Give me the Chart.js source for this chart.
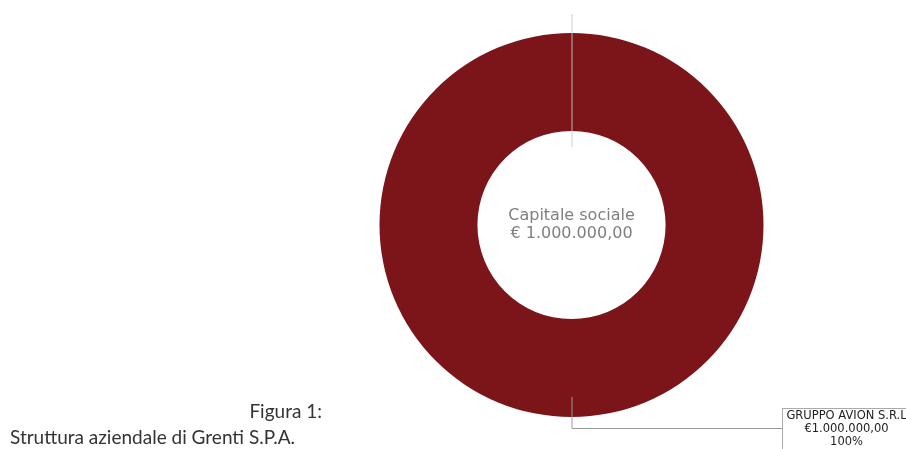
<!DOCTYPE html>
<html lang="it">
<head>
<meta charset="utf-8">
<script src="https://cdn.jsdelivr.net/npm/chart.js@4"></script>
<style>
  html, body { margin: 0; padding: 0; background: #fff; }
  #wrap { position: relative; width: 906px; height: 449px; overflow: hidden; }
  canvas { position: absolute; left: 0; top: 0; }
  .cap { position: absolute; font-family: Lato, "Open Sans", sans-serif; font-size: 19px; color: #333; white-space: nowrap; }
  #cap1 { right: 584px; top: 399px; }
  #cap2 { left: 10px; top: 425px; }
</style>
</head>
<body>
<div id="wrap">
  <canvas id="grafico" width="906" height="449"></canvas>
  <div class="cap" id="cap1">Figura 1:</div>
  <div class="cap" id="cap2">Struttura aziendale di Grenti S.P.A.</div>
</div>
<script>
// Dati
const soci = ["GRUPPO AVION S.R.L"];
const quote = [1000000];
const colori = ["#7b1519"];
const titoloCentro = ["Capitale sociale", "€ 1.000.000,00"];

const totale = quote.reduce((a, b) => a + b, 0);
const fmtEuro = v => "€" + Number(v).toLocaleString("it-IT", { minimumFractionDigits: 2, maximumFractionDigits: 2 });
const fmtPerc = v => Math.round(v * 100 / totale) + "%";

// Testo centrale + linee guida + etichetta
const decorazioni = {
  id: "decorazioni",
  afterDatasetsDraw(chart) {
    const { ctx } = chart;
    const arc = chart.getDatasetMeta(0).data[0];
    const cx = arc.x, cy = arc.y, R = arc.outerRadius, r = arc.innerRadius;

    ctx.save();
    // linea in alto (inizio fetta)
    ctx.strokeStyle = "rgba(200,200,200,0.9)";
    ctx.lineWidth = 1;
    ctx.beginPath();
    ctx.moveTo(cx + 0.5, cy - R - 19);
    ctx.lineTo(cx + 0.5, cy - r + 16);
    ctx.stroke();

    // testo centrale
    ctx.fillStyle = "#7f7f7f";
    ctx.font = "16px 'DejaVu Sans'";
    ctx.textAlign = "center";
    ctx.textBaseline = "middle";
    ctx.fillText(titoloCentro[0], cx, cy - 9);
    ctx.fillText(titoloCentro[1], cx, cy + 9);

    // linea guida verso l'etichetta
    const yLinea = 428.5;
    const xBox = 782.5;
    ctx.strokeStyle = "#999";
    ctx.beginPath();
    ctx.moveTo(cx + 0.5, cy + R - 20);
    ctx.lineTo(cx + 0.5, yLinea);
    ctx.lineTo(xBox, yLinea);
    ctx.stroke();

    // riquadro etichetta
    ctx.strokeStyle = "#aaa";
    ctx.fillStyle = "#fff";
    ctx.fillRect(xBox, 408.5, 132, 50);
    ctx.strokeRect(xBox, 408.5, 132, 50);
    ctx.fillStyle = "#222";
    ctx.font = "11.5px 'DejaVu Sans'";
    const xc = xBox + 64;
    ctx.fillText(soci[0], xc, 416);
    ctx.fillText(fmtEuro(quote[0]), xc, 429);
    ctx.fillText(fmtPerc(quote[0]), xc, 442);
    ctx.restore();
  }
};

new Chart(document.getElementById("grafico"), {
  type: "doughnut",
  data: {
    labels: soci,
    datasets: [{ data: quote, backgroundColor: colori, borderWidth: 0 }]
  },
  options: {
    responsive: false,
    animation: false,
    cutout: "49%",
    layout: { padding: { left: 379.5, right: 142.5, top: 33, bottom: 32 } },
    plugins: { legend: { display: false }, tooltip: { enabled: false } }
  },
  plugins: [decorazioni]
});
</script>
</body>
</html>
